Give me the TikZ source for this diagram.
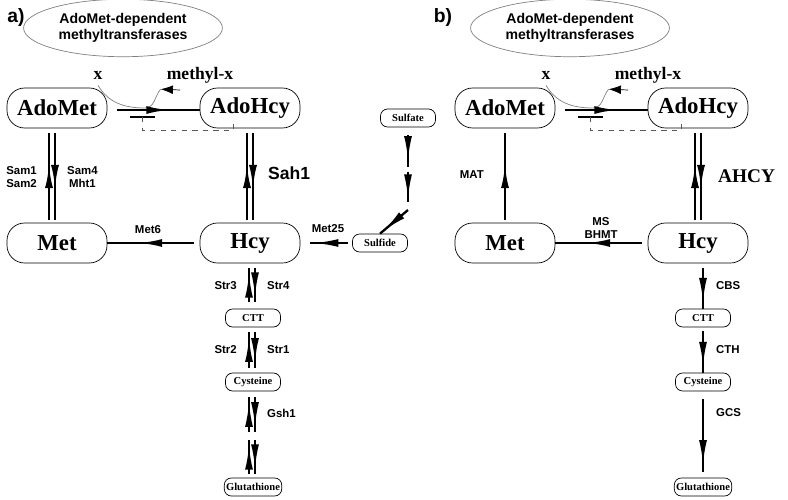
\documentclass[tikz,border=0pt]{standalone}
\usepackage{fontspec}
\setmainfont{Liberation Serif}
\newfontfamily\sansf{Liberation Sans}
\usetikzlibrary{arrows.meta,decorations.markings,shapes.geometric}
\tikzset{
  big/.style={draw,rounded corners=10pt,minimum width=2cm,minimum height=0.8cm,font=\fontsize{13}{13}\selectfont\bfseries},
  small/.style={draw,rounded corners=4pt,minimum width=1.1cm,minimum height=0.36cm,inner sep=1pt,font=\fontsize{6}{6}\selectfont\bfseries},
  enz/.style={font=\sansf\fontsize{6.5}{7.5}\selectfont\bfseries,align=center},
  flow/.style={line width=1.6pt,postaction={decorate},decoration={markings,
    mark=at position #1 with {\arrow{Latex[length=14pt,width=4.5pt]}}}},
  flow/.default=0.65
}
\begin{document}
\begin{tikzpicture}[x=0.02cm,y=-0.02cm]
\useasboundingbox (0,0) rectangle (788,500);
% panel a
\node[font=\sansf\fontsize{11}{11}\selectfont\bfseries] (la) at (16,18) {a)};
\node[draw=gray,ellipse,minimum width=3.6cm,minimum height=0.8cm,font=\sansf\fontsize{8}{9}\selectfont\bfseries,align=center] (mta) at (123,28) {AdoMet-dependent\\methyltransferases};
\node[big] (adometa) at (57,108) {AdoMet};
\node[big] (adohcya) at (250,108) {AdoHcy};
\node[big] (meta) at (57,243) {Met};
\node[big] (hcya) at (250,243) {Hcy};
\node[font=\fontsize{10}{10}\selectfont\bfseries] (xa) at (98,75) {x};
\node[font=\fontsize{10}{10}\selectfont\bfseries] (mxa) at (200,75) {methyl-x};
\draw[gray] (xa.south) to[out=-60,in=180] (145,108) to[out=0,in=-130] (mxa.south west);
\draw[-{Latex[length=7pt,width=5pt]}] (180,90) -- (mxa.south west);
\draw[flow] (adometa.east) ++(10,2) coordinate (a1) -- (a1 -| adohcya.west);
\draw[line width=1.2pt] (130,117) -- (155,117);
\draw[dashed,gray!70!black] (142,117) |- (233,130) -- (233,124);
\draw[flow] (49,220) -- (49,133);
\draw[flow] (55,133) -- (55,220);
\node[enz,anchor=east] (sama) at (43,177) {Sam1\\Sam2};
\node[enz,anchor=west] (samb) at (61,177) {Sam4\\Mht1};
\draw[flow] (247,220) -- (247,133);
\draw[flow] (253,133) -- (253,220);
\node[enz,anchor=west,font=\sansf\fontsize{10}{10}\selectfont\bfseries] (sah) at (262,173) {Sah1};
\draw[flow] (hcya.west) ++(-6,0) coordinate (h1) -- (h1 -| meta.east);
\node[enz] (met6) at (148,230) {Met6};
\node[small] (sulfate) at (408,118) {Sulfate};
\node[small] (sulfide) at (380,243) {Sulfide};
\draw[flow=0.8,line width=1.3pt] (sulfate.south) ++(0,8) coordinate (s1) -- (408,167);
\draw[flow=0.9,line width=1.3pt] (408,172) -- (408,202);
\draw[flow=0.9,line width=1.3pt] (408,210) -- (sulfide.north);
\draw[flow=0.9,line width=1.3pt] (sulfide.west) ++(-4,0) coordinate (s2) -- (310,243);
\node[enz] (met25) at (328,229) {Met25};
\node[small] (ctta) at (253,318) {CTT};
\node[small] (cysa) at (253,382) {Cysteine};
\node[small] (glua) at (253,487) {Glutathione};
\foreach \ya/\yb in {268/302,332/368,397/432,440/474}{
  \draw[flow=0.85,line width=1.3pt] (249,\yb) -- (249,\ya);
  \draw[flow=0.85,line width=1.3pt] (255,\ya) -- (255,\yb);
}
\node[enz,anchor=east] (str3) at (243,286) {Str3};
\node[enz,anchor=west] (str4) at (261,286) {Str4};
\node[enz,anchor=east] (str2) at (243,350) {Str2};
\node[enz,anchor=west] (str1) at (261,350) {Str1};
\node[enz,anchor=west] (gsh) at (261,413) {Gsh1};
% panel b
\node[font=\sansf\fontsize{11}{11}\selectfont\bfseries] (lb) at (443,18) {b)};
\node[draw=gray,ellipse,minimum width=3.6cm,minimum height=0.8cm,font=\sansf\fontsize{8}{9}\selectfont\bfseries,align=center] (mtb) at (570,28) {AdoMet-dependent\\methyltransferases};
\node[big] (adometb) at (505,108) {AdoMet};
\node[big] (adohcyb) at (698,108) {AdoHcy};
\node[big] (metb) at (505,243) {Met};
\node[big] (hcyb) at (698,243) {Hcy};
\node[font=\fontsize{10}{10}\selectfont\bfseries] (xb) at (546,75) {x};
\node[font=\fontsize{10}{10}\selectfont\bfseries] (mxb) at (648,75) {methyl-x};
\draw[gray] (xb.south) to[out=-60,in=180] (593,108) to[out=0,in=-130] (mxb.south west);
\draw[-{Latex[length=7pt,width=5pt]}] (628,90) -- (mxb.south west);
\draw[flow] (adometb.east) ++(10,2) coordinate (b1) -- (b1 -| adohcyb.west);
\draw[line width=1.2pt] (578,117) -- (603,117);
\draw[dashed,gray!70!black] (590,117) |- (681,130) -- (681,124);
\draw[flow] (505,220) -- (505,133);
\node[enz,anchor=east] (mat) at (490,175) {MAT};
\draw[flow] (695,220) -- (695,133);
\draw[flow] (701,133) -- (701,220);
\node[anchor=west,font=\fontsize{11}{11}\selectfont\bfseries] (ahcy) at (712,176) {AHCY};
\draw[flow] (hcyb.west) ++(-6,0) coordinate (h2) -- (h2 -| metb.east);
\node[enz] (ms) at (601,228) {MS\\BHMT};
\node[small] (cttb) at (703,318) {CTT};
\node[small] (cysb) at (703,382) {Cysteine};
\node[small] (glub) at (703,487) {Glutathione};
\draw[flow=0.85,line width=1.3pt] (703,268) -- (cttb.north);
\draw[flow=0.85,line width=1.3pt] (cttb.south) ++(0,4) coordinate (c1) -- (cysb.north);
\draw[flow=0.9,line width=1.3pt] (cysb.south) ++(0,8) coordinate (c2) -- (703,472);
\node[enz,anchor=west] (cbs) at (710,286) {CBS};
\node[enz,anchor=west] (cth) at (710,350) {CTH};
\node[enz,anchor=west] (gcs) at (710,413) {GCS};
\end{tikzpicture}
\end{document}
